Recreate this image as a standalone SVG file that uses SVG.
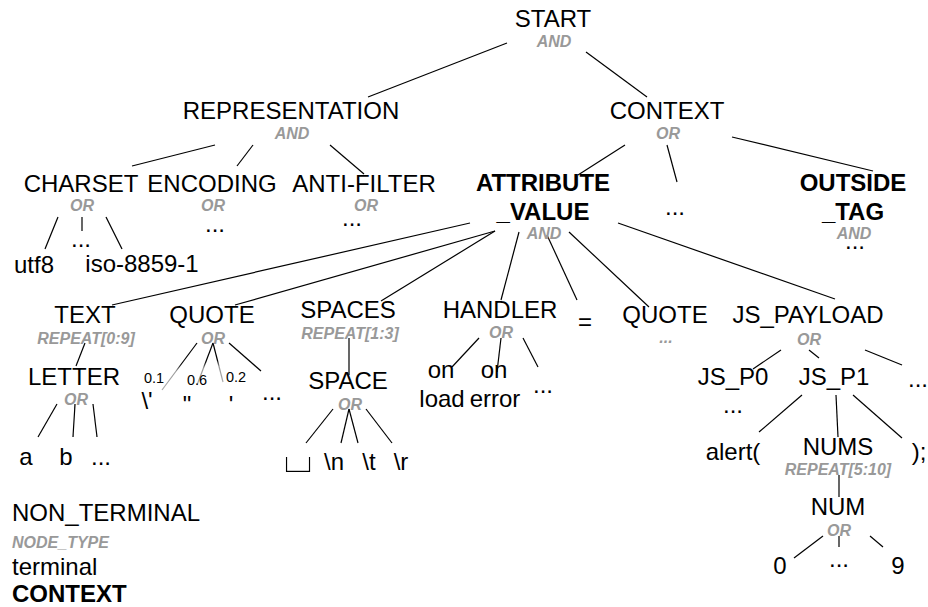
<svg xmlns="http://www.w3.org/2000/svg" width="928" height="607" viewBox="0 0 928 607">
<defs>
<style>
text{font-family:"Liberation Sans",Arial,Helvetica,sans-serif;font-size:24px;fill:#000;text-anchor:middle}
.b{font-weight:bold}
.t{font-size:16px;font-weight:bold;font-style:italic;fill:#999}
.p{font-size:14.5px}
.l{text-anchor:start}
.sp{font-family:"DejaVu Sans",sans-serif;font-size:56px;stroke:#fff;stroke-width:3.4px}
#connectors line{stroke:#000;stroke-width:1.2;fill:none}
#connectors line.f{stroke:url(#fade)}
</style>
<linearGradient id="fade" x1="0" y1="0" x2="0" y2="1">
<stop offset="0" stop-color="#000"/>
<stop offset="0.45" stop-color="#000"/>
<stop offset="0.6" stop-color="#999"/>
<stop offset="1" stop-color="#aaa"/>
</linearGradient>
</defs>
<rect width="928" height="607" fill="#fff"/>
<g id="connectors">
<line x1="507" y1="43" x2="368" y2="97"/>
<line x1="586" y1="52" x2="647" y2="97"/>
<line x1="215" y1="145" x2="132" y2="166"/>
<line x1="253" y1="145" x2="237" y2="166"/>
<line x1="330" y1="145" x2="364" y2="174"/>
<line x1="58" y1="217" x2="45" y2="249"/>
<line x1="82" y1="217" x2="82" y2="231"/>
<line x1="106" y1="217" x2="122" y2="249"/>
<line x1="625" y1="145" x2="578" y2="175"/>
<line x1="667" y1="145" x2="677" y2="182"/>
<line x1="732" y1="137" x2="873" y2="171"/>
<line x1="470" y1="223" x2="112" y2="305"/>
<line x1="495" y1="231" x2="235" y2="305"/>
<line x1="495" y1="231" x2="381" y2="301"/>
<line x1="519" y1="232" x2="501" y2="300"/>
<line x1="547" y1="235" x2="577" y2="300"/>
<line x1="569" y1="232" x2="649" y2="307"/>
<line x1="618" y1="223" x2="835" y2="299"/>
<line x1="85" y1="343" x2="76" y2="366"/>
<line x1="57" y1="404" x2="38" y2="437"/>
<line x1="75" y1="404" x2="73" y2="437"/>
<line x1="93" y1="404" x2="97" y2="437"/>
<line class="f" x1="197" y1="343" x2="162" y2="390"/>
<line class="f" x1="213" y1="343" x2="197" y2="385"/>
<line class="f" x1="213" y1="343" x2="223" y2="382"/>
<line x1="229" y1="343" x2="261" y2="371"/>
<line x1="349" y1="338" x2="349" y2="375"/>
<line x1="333" y1="409" x2="306" y2="443"/>
<line x1="349" y1="409" x2="341" y2="443"/>
<line x1="349" y1="409" x2="358" y2="443"/>
<line x1="366" y1="409" x2="392" y2="443"/>
<line x1="479" y1="338" x2="452" y2="367"/>
<line x1="501" y1="338" x2="497" y2="372"/>
<line x1="523" y1="338" x2="538" y2="367"/>
<line x1="781" y1="350" x2="753" y2="369"/>
<line x1="809" y1="350" x2="819" y2="358"/>
<line x1="865" y1="350" x2="902" y2="365"/>
<line x1="802" y1="395" x2="759" y2="432"/>
<line x1="836" y1="395" x2="838" y2="437"/>
<line x1="853" y1="395" x2="902" y2="438"/>
<line x1="839" y1="475" x2="839" y2="497"/>
<line x1="823" y1="536" x2="794" y2="558"/>
<line x1="839" y1="536" x2="839" y2="547"/>
<line x1="870" y1="536" x2="883" y2="547"/>
</g>
<g id="start"><text x="553" y="27">START</text><text class="t" x="554" y="47">AND</text></g>
<g id="representation"><text x="291" y="119">REPRESENTATION</text><text class="t" x="292" y="139">AND</text></g>
<g id="context"><text x="667" y="119">CONTEXT</text><text class="t" x="668" y="139">OR</text></g>
<g id="charset"><text x="81" y="192">CHARSET</text><text class="t" x="82" y="211">OR</text></g>
<g id="encoding"><text x="212" y="192">ENCODING</text><text class="t" x="213" y="211">OR</text><text x="215" y="232">...</text></g>
<g id="anti-filter"><text x="364" y="192">ANTI-FILTER</text><text class="t" x="366" y="211">OR</text><text x="352" y="226">...</text></g>
<g id="utf8"><text x="34" y="273">utf8</text></g>
<g id="charset-more"><text x="81" y="247">...</text></g>
<g id="iso"><text x="142" y="272">iso-8859-1</text></g>
<g id="attribute-value"><text class="b" x="543" y="191">ATTRIBUTE</text><text class="b" x="543" y="220">_VALUE</text><text class="t" x="544" y="239">AND</text></g>
<g id="context-more"><text x="675" y="215">...</text></g>
<g id="outside-tag"><text class="b" x="853" y="191">OUTSIDE</text><text class="b" x="853" y="220">_TAG</text><text class="t" x="854" y="239">AND</text><text x="855" y="249">...</text></g>
<g id="text"><text x="85" y="323">TEXT</text><text class="t" x="86" y="344">REPEAT[0:9]</text></g>
<g id="quote"><text x="212" y="323">QUOTE</text><text class="t" x="213" y="344">OR</text></g>
<g id="spaces"><text x="348" y="318">SPACES</text><text class="t" x="350" y="339">REPEAT[1:3]</text></g>
<g id="handler"><text x="500" y="318">HANDLER</text><text class="t" x="501" y="338">OR</text></g>
<g id="equals"><text x="585" y="330">=</text></g>
<g id="quote2"><text x="665" y="323">QUOTE</text><text class="t" x="666" y="343">...</text></g>
<g id="js-payload"><text x="808" y="323">JS_PAYLOAD</text><text class="t" x="809" y="345">OR</text></g>
<g id="letter"><text x="74" y="385">LETTER</text><text class="t" x="76" y="405">OR</text></g>
<g id="a"><text x="26" y="465">a</text></g>
<g id="b"><text x="66" y="465">b</text></g>
<g id="letter-more"><text x="101" y="465">...</text></g>
<g id="q1"><text class="p" x="154" y="383">0.1</text><text x="147" y="409">\'</text></g>
<g id="q2"><text class="p" x="197" y="385">0.6</text><text x="187" y="413">"</text></g>
<g id="q3"><text class="p" x="236" y="382">0.2</text><text x="231" y="413">'</text></g>
<g id="quote-more"><text x="272" y="400">...</text></g>
<g id="space"><text x="348" y="389">SPACE</text><text class="t" x="350" y="410">OR</text></g>
<g id="sp"><text class="sp" x="298" y="461">␣</text></g>
<g id="nl"><text x="334" y="470">\n</text></g>
<g id="tab"><text x="369" y="470">\t</text></g>
<g id="cr"><text x="401" y="470">\r</text></g>
<g id="onload"><text x="441" y="378">on</text><text x="442" y="407">load</text></g>
<g id="onerror"><text x="494" y="378">on</text><text x="495" y="407">error</text></g>
<g id="handler-more"><text x="543" y="393">...</text></g>
<g id="js-p0"><text x="733" y="385">JS_P0</text><text x="733" y="413">...</text></g>
<g id="js-p1"><text x="834" y="385">JS_P1</text></g>
<g id="js-more"><text x="918" y="387">...</text></g>
<g id="alert"><text x="733" y="460">alert(</text></g>
<g id="nums"><text x="838" y="455">NUMS</text><text class="t" x="838" y="475">REPEAT[5:10]</text></g>
<g id="close"><text x="919" y="460">);</text></g>
<g id="num"><text x="838" y="515">NUM</text><text class="t" x="839" y="536">OR</text></g>
<g id="d0"><text x="780" y="574">0</text></g>
<g id="num-more"><text x="839" y="567">...</text></g>
<g id="d9"><text x="898" y="574">9</text></g>
<g id="legend">
<text class="l" x="12" y="521">NON_TERMINAL</text>
<text class="t l" x="12" y="548">NODE_TYPE</text>
<text class="l" x="12" y="575">terminal</text>
<text class="b l" x="12" y="602">CONTEXT</text>
</g>
</svg>
